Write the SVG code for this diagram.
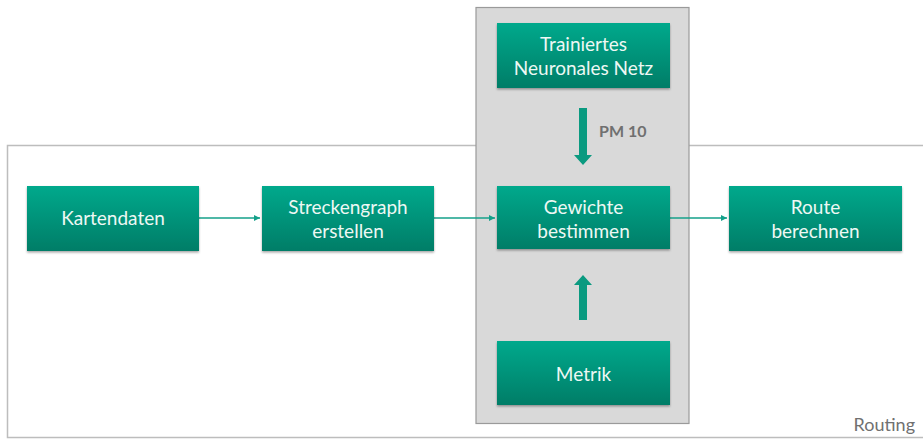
<svg xmlns="http://www.w3.org/2000/svg" width="923" height="440" viewBox="0 0 923 440">
<defs>
<linearGradient id="g" x1="0" y1="0" x2="0" y2="1">
<stop offset="0" stop-color="#00a98c"/>
<stop offset="1" stop-color="#007d67"/>
</linearGradient>
<filter id="sh" x="-10%" y="-10%" width="120%" height="130%">
<feDropShadow dx="0" dy="1.5" stdDeviation="1.2" flood-color="#000" flood-opacity="0.35"/>
</filter>
<marker id="ah" markerWidth="8" markerHeight="8" refX="6" refY="4" orient="auto" markerUnits="userSpaceOnUse">
<path d="M0,1 L6,4 L0,7 Z" fill="#14a08a"/>
</marker>
</defs>
<style>
.box{fill:url(#g);filter:url(#sh);}
.t{font-family:Lato,"Open Sans",sans-serif;font-size:19px;fill:#eef8f4;text-anchor:middle;}
.thin{stroke:#14a08a;stroke-width:1.5;fill:none;}
.thick{fill:#0a9a80;}
.lbl{font-family:Lato,"Open Sans",sans-serif;fill:#707070;}
</style>
<rect width="923" height="440" fill="#ffffff"/>
<g id="routing">
<rect x="7.5" y="145.5" width="920" height="292" fill="#ffffff" stroke="#bdbdbd" stroke-width="1.5"/>
<text class="lbl" x="915" y="431" font-size="18" fill="#808080" text-anchor="end">Routing</text>
</g>
<g id="gray-panel">
<rect x="476" y="7.5" width="213" height="416" fill="#d9d9d9" stroke="#9a9a9a" stroke-width="1.2"/>
</g>
<g id="connectors">
<line class="thin" x1="199" y1="218" x2="260" y2="218" marker-end="url(#ah)"/>
<line class="thin" x1="434" y1="218" x2="495" y2="218" marker-end="url(#ah)"/>
<line class="thin" x1="670" y1="218" x2="727" y2="218" marker-end="url(#ah)"/>
<path class="thick" d="M579,108 L587,108 L587,155 L592,155 L583,165 L574,155 L579,155 Z"/>
<path class="thick" d="M579,320 L587,320 L587,285 L592,285 L583,275 L574,285 L579,285 Z"/>
<text class="lbl" x="599" y="137" font-size="16" font-weight="bold" fill="#6e6e6e">PM 10</text>
</g>
<g id="n-netz">
<rect class="box" x="497" y="23" width="173" height="65"/>
<text class="t" x="583.5" y="51">Trainiertes</text>
<text class="t" x="583.5" y="75">Neuronales Netz</text>
</g>
<g id="n-karten">
<rect class="box" x="27" y="186" width="172" height="65"/>
<text class="t" x="113" y="225">Kartendaten</text>
</g>
<g id="n-strecken">
<rect class="box" x="262" y="186" width="172" height="65"/>
<text class="t" x="348" y="214">Streckengraph</text>
<text class="t" x="348" y="238">erstellen</text>
</g>
<g id="n-gewichte">
<rect class="box" x="497" y="186" width="173" height="63"/>
<text class="t" x="583.5" y="214">Gewichte</text>
<text class="t" x="583.5" y="238">bestimmen</text>
</g>
<g id="n-route">
<rect class="box" x="729" y="186" width="173" height="65"/>
<text class="t" x="815.5" y="214">Route</text>
<text class="t" x="815.5" y="238">berechnen</text>
</g>
<g id="n-metrik">
<rect class="box" x="497" y="341" width="173" height="64"/>
<text class="t" x="583.5" y="381">Metrik</text>
</g>
</svg>
